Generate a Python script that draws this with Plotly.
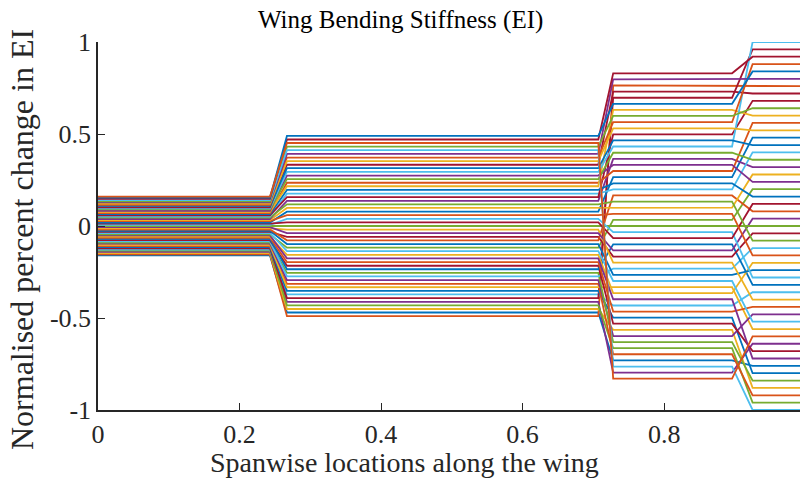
import plotly.graph_objects as go

# Spanwise breakpoints (segment starts/ends) along the wing
seg_x = [0.0, 0.243, 0.267, 0.707, 0.728, 0.896, 0.925, 1.0]

# Normalised percent change in EI per line, for each of the four wing segments
seg1 = [-0.160, -0.154, -0.147, -0.141, -0.134, -0.128, -0.122, -0.115, -0.109, -0.102,
        -0.096, -0.090, -0.083, -0.077, -0.070, -0.064, -0.058, -0.051, -0.045, -0.038,
        -0.032, -0.026, -0.019, -0.013, -0.006, 0.000, 0.006, 0.013, 0.019, 0.026,
        0.032, 0.038, 0.045, 0.051, 0.058, 0.064, 0.070, 0.077, 0.083, 0.090,
        0.096, 0.102, 0.109, 0.115, 0.122, 0.128, 0.134, 0.141, 0.147, 0.154, 0.160]
seg2 = [-0.470, -0.490, -0.451, -0.412, -0.431, -0.372, -0.392, -0.353, -0.314, -0.333,
        -0.294, -0.255, -0.274, -0.216, -0.235, -0.196, -0.157, -0.176, -0.118, -0.137,
        -0.059, -0.098, -0.078, -0.020, -0.039, 0.000, 0.039, 0.020, 0.078, 0.059,
        0.098, 0.137, 0.118, 0.176, 0.157, 0.196, 0.235, 0.216, 0.274, 0.255,
        0.294, 0.333, 0.314, 0.372, 0.353, 0.392, 0.431, 0.412, 0.470, 0.490, 0.451]
seg3 = [-0.730, 0.764, -0.564, -0.797, -0.664, -0.432, 0.697, -0.498, -0.697, -0.332,
        -0.598, -0.631, -0.232, -0.531, -0.100, -0.465, -0.365, -0.398, 0.033, -0.299,
        -0.166, -0.266, 0.166, -0.199, -0.133, 0.000, -0.033, -0.066, 0.266, 0.066,
        0.100, 0.365, 0.133, 0.199, 0.498, 0.232, 0.299, 0.631, 0.332, 0.398,
        0.432, 0.730, 0.465, 0.564, 0.531, 0.797, 0.598, -0.764, 0.830, 0.664, -0.830]
seg4 = [-0.76, 0.76, -0.88, -0.64, -0.96, -0.36, 0.96, -0.80, -0.92, -0.56,
        -0.48, -0.84, -0.12, -0.68, -0.32, -0.44, -0.20, -0.72, 0.20, -0.52,
        -0.04, -0.24, 0.08, -0.40, 0.04, 0.00, -0.28, 0.12, 0.48, -0.16,
        0.28, 0.32, -0.08, 0.40, 0.68, 0.16, 0.56, 0.60, 0.24, 0.36,
        1.00, 0.72, 0.44, 0.88, 0.52, 0.80, 0.64, -1.00, 0.92, 0.84, -0.60]

x_ticks = [0, 0.2, 0.4, 0.6, 0.8, 1]
x_tick_text = ["0", "0.2", "0.4", "0.6", "0.8", "1"]
y_ticks = [-1, -0.5, 0, 0.5, 1]
y_tick_text = ["-1", "-0.5", "0", "0.5", "1"]

palette = ["#0072BD", "#D95319", "#EDB120", "#7E2F8E", "#77AC30", "#4DBEEE", "#A2142F"]

FONT = "Liberation Serif"

fig = go.Figure()
for i in range(len(seg1)):
    ys = [seg1[i], seg1[i], seg2[i], seg2[i], seg3[i], seg3[i], seg4[i], seg4[i]]
    fig.add_trace(go.Scatter(x=seg_x, y=ys, mode="lines",
                             line=dict(color=palette[i % len(palette)], width=1.8),
                             showlegend=False, hoverinfo="skip"))

axis_common = dict(showline=True, linecolor="#262626", linewidth=1.5,
                   ticks="inside", ticklen=7, tickcolor="#262626", tickwidth=1.2,
                   showgrid=False, zeroline=False, mirror=False,
                   tickfont=dict(family=FONT, size=26, color="#262626"))

fig.update_layout(
    width=800, height=481,
    font=dict(family=FONT, color="#262626"),
    margin=dict(l=98, r=0, t=42, b=71),
    paper_bgcolor="white", plot_bgcolor="white",
    xaxis=dict(range=[0, 0.992], tickvals=x_ticks, ticktext=x_tick_text, **axis_common),
    yaxis=dict(range=[-1, 1], tickvals=y_ticks, ticktext=y_tick_text, **axis_common),
    annotations=[
        dict(text="Wing Bending Stiffness (EI)", xref="paper", yref="paper",
             x=(400 - 98) / 702, y=(410 - 20) / 368, showarrow=False,
             font=dict(family=FONT, size=25, color="black"), yanchor="middle", xanchor="center"),
        dict(text="Spanwise locations along the wing", xref="paper", yref="paper",
             x=(404 - 98) / 702, y=-(462 - 410) / 368, showarrow=False,
             font=dict(family=FONT, size=28, color="#262626"), yanchor="middle", xanchor="center"),
        dict(text="Normalised percent change in EI", xref="paper", yref="paper",
             x=-(98 - 22) / 702, y=(410 - 240) / 368, showarrow=False, textangle=-90,
             font=dict(family=FONT, size=32, color="#262626"), yanchor="middle", xanchor="center"),
    ],
)

fig.write_html("out.html")
